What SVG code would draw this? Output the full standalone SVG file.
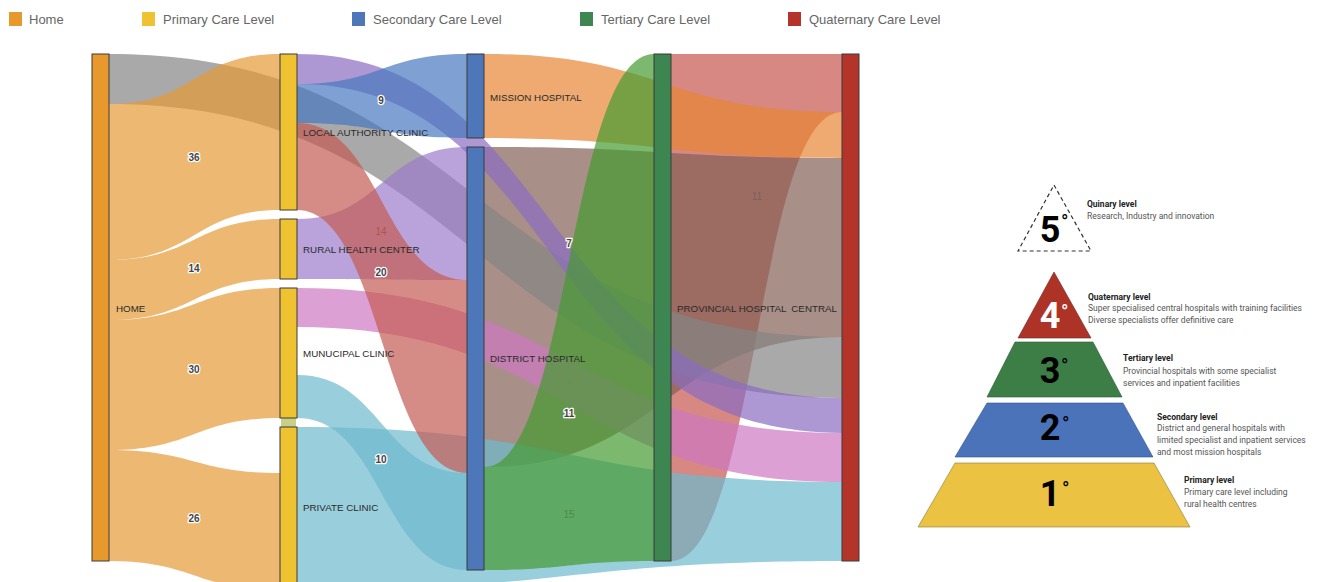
<svg xmlns="http://www.w3.org/2000/svg" width="1343" height="582" viewBox="0 0 1343 582">
<style>
.lk{stroke:none;fill-opacity:0.7}
.nd{stroke:#3a3a3a;stroke-width:1}
.nl{font-family:"Liberation Sans",Arial,sans-serif;font-size:9.8px;fill:#2a2a2a}
.vl{font-family:"Liberation Sans",Arial,sans-serif;font-size:10px;font-weight:bold;fill:#444;text-anchor:middle;stroke:#fff;stroke-width:2.5px;paint-order:stroke;stroke-linejoin:round}
.vt{font-family:"Liberation Sans",Arial,sans-serif;font-size:10px;text-anchor:middle}
.lg{font-family:"Liberation Sans",Arial,sans-serif;font-size:13px;fill:#666}
.dg{font-family:Roboto,"Liberation Sans",sans-serif;font-size:36px;font-weight:bold;text-anchor:middle}
.deg{font-family:Roboto,"Liberation Sans",sans-serif;font-size:20px}
.pt{font-family:Roboto,"Liberation Sans",sans-serif;font-size:8.5px;font-weight:bold;fill:#222}
.pb{font-family:Roboto,"Liberation Sans",sans-serif;font-size:8.5px;fill:#555}
</style>
<rect width="1343" height="582" fill="#ffffff"/>
<g id="legend">
<rect x="9" y="12" width="13" height="14" fill="#E8992E"/><text class="lg" x="29" y="24">Home</text>
<rect x="142" y="12" width="13" height="14" fill="#EFC232"/><text class="lg" x="163" y="24">Primary Care Level</text>
<rect x="352" y="12" width="13" height="14" fill="#4E77BA"/><text class="lg" x="373" y="24">Secondary Care Level</text>
<rect x="580" y="12" width="13" height="14" fill="#3D8551"/><text class="lg" x="601" y="24">Tertiary Care Level</text>
<rect x="788" y="12" width="13" height="14" fill="#B4342A"/><text class="lg" x="809" y="24">Quaternary Care Level</text>
</g>
<g id="connectors">
<path class="lk" fill="#C6554D" d="M671,54 C756.5,54 756.5,54 842,54 L842,112 C756.5,112 756.5,561 671,561 Z"/>
<path class="lk" fill="#836155" d="M484,147 C663,147 663,158 842,158 L842,337 C663,337 663,467 484,467 Z"/>
<path class="lk" fill="#848484" d="M109,54 C475.5,54 475.5,337 842,337 L842,398 C475.5,398 475.5,104 109,104 Z"/>
<path class="lk" fill="#E59A36" d="M109,104 C194.5,104 194.5,54 280,54 L280,210 C194.5,210 194.5,260 109,260 Z"/>
<path class="lk" fill="#E59A36" d="M109,260 C194.5,260 194.5,219 280,219 L280,279 C194.5,279 194.5,320 109,320 Z"/>
<path class="lk" fill="#E59A36" d="M109,320 C194.5,320 194.5,288 280,288 L280,418 C194.5,418 194.5,450 109,450 Z"/>
<path class="lk" fill="#E59A36" d="M109,450 C194.5,450 194.5,473 280,473 L280,590 C194.5,590 194.5,561 109,561 Z"/>
<path class="lk" fill="#E78634" d="M484,54 C663,54 663,112 842,112 L842,158 C663,158 663,138 484,138 Z"/>
<path class="lk" fill="#CD78C2" d="M297,288 C569.5,288 569.5,433 842,433 L842,482 C569.5,482 569.5,327 297,327 Z"/>
<path class="lk" fill="#6EB9CD" d="M297,427 C569.5,427 569.5,482 842,482 L842,561 C569.5,561 569.5,590 297,590 Z"/>
<path class="lk" fill="#9B7CCA" d="M297,219 C382,219 382,147 467,147 L467,280 C382,280 382,279 297,279 Z"/>
<path class="lk" fill="#8C6CC2" d="M297,54 C560,54 540,398 842,398 L842,433 C540,433 560,84 297,84 Z"/>
<path class="lk" fill="#4878BF" d="M297,84 C382,84 382,54 467,54 L467,138 C382,138 382,123 297,123 Z"/>
<path class="lk" fill="#6EB9CD" d="M297,375 C382,375 382,473 467,473 L467,570 C382,570 382,418 297,418 Z"/>
<path class="lk" fill="#C55B52" d="M297,123 C382,123 382,280 467,280 L467,473 C382,473 382,210 297,210 Z"/>
<path class="lk" fill="#449A30" d="M484,467 C569,467 569,54 654,54 L654,561 C569,561 569,570 484,570 Z"/>
<rect x="281" y="418" width="15" height="9" fill="#B8C46C" fill-opacity="0.8"/>
</g>
<g id="link-labels">
<text class="vl" x="194" y="161">36</text>
<text class="vl" x="194" y="272">14</text>
<text class="vl" x="194" y="373">30</text>
<text class="vl" x="194" y="522">26</text>
<text class="vl" x="381" y="104">9</text>
<text class="vt" x="381" y="235" fill="#A9574F">14</text>
<text class="vl" x="381" y="276">20</text>
<text class="vl" x="381" y="463">10</text>
<text class="vl" x="569" y="247">7</text>
<text class="vt" x="569" y="387" fill="#5E955A">9</text>
<text class="vl" x="569" y="417">11</text>
<text class="vt" x="569" y="518" fill="#4F8A4C">15</text>
<text class="vt" x="757" y="200" fill="#7E605C">11</text>
</g>
<g id="node-home"><rect class="nd" x="92" y="54" width="17" height="507" fill="#E8992E"/><text class="nl" x="116" y="312">HOME</text></g>
<g id="node-lac"><rect class="nd" x="280" y="54" width="17" height="156" fill="#EFC232"/><text class="nl" x="303" y="136">LOCAL AUTHORITY CLINIC</text></g>
<g id="node-rhc"><rect class="nd" x="280" y="219" width="17" height="60" fill="#EFC232"/><text class="nl" x="303" y="253">RURAL HEALTH CENTER</text></g>
<g id="node-mc"><rect class="nd" x="280" y="288" width="17" height="130" fill="#EFC232"/><text class="nl" x="303" y="357">MUNUCIPAL CLINIC</text></g>
<g id="node-pc"><rect class="nd" x="280" y="427" width="17" height="170" fill="#EFC232"/><text class="nl" x="303" y="511">PRIVATE CLINIC</text></g>
<g id="node-mission"><rect class="nd" x="467" y="54" width="17" height="84" fill="#4E77BA"/><text class="nl" x="490" y="101">MISSION HOSPITAL</text></g>
<g id="node-district"><rect class="nd" x="467" y="147" width="17" height="423" fill="#4E77BA"/><text class="nl" x="490" y="362">DISTRICT HOSPITAL</text></g>
<g id="node-provincial"><rect class="nd" x="654" y="54" width="17" height="507" fill="#3D8551"/><text class="nl" x="677" y="312">PROVINCIAL HOSPITAL</text></g>
<g id="node-central"><rect class="nd" x="842" y="54" width="17" height="507" fill="#B4342A"/><text class="nl" x="837" y="312" text-anchor="end">CENTRAL</text></g>
<g id="pyramid">
<polygon points="1054,185 1091,251 1018,251" fill="#ffffff" stroke="#333" stroke-width="1.2" stroke-dasharray="4 3"/>
<text class="dg" x="1050" y="242" fill="#000">5</text><text class="deg" x="1061" y="229" fill="#000">°</text>
<text class="pt" x="1087" y="207">Quinary level</text>
<text class="pb" x="1087" y="219">Research, Industry and innovation</text>
<polygon points="1054,272 1091,338 1018,338" fill="#AD3327" stroke="#6a2a24" stroke-width="0.6"/>
<text class="dg" x="1050" y="328" fill="#ffffff">4</text><text class="deg" x="1061" y="319" fill="#ffffff">°</text>
<text class="pt" x="1088" y="300">Quaternary level</text>
<text class="pb" x="1088" y="311">Super specialised central hospitals with training facilities</text>
<text class="pb" x="1088" y="323">Diverse specialists offer definitive care</text>
<polygon points="1015,342 1093,342 1122,397 987,397" fill="#3C7E46" stroke="#2c5a33" stroke-width="0.6"/>
<text class="dg" x="1050" y="383" fill="#000">3</text><text class="deg" x="1061" y="373" fill="#000">°</text>
<text class="pt" x="1123" y="361">Tertiary level</text>
<text class="pb" x="1123" y="374">Provincial hospitals with some specialist</text>
<text class="pb" x="1123" y="386">services and inpatient facilities</text>
<polygon points="987,403 1123,403 1153,457 955,457" fill="#4A73B9" stroke="#34558a" stroke-width="0.6"/>
<text class="dg" x="1050" y="440" fill="#000">2</text><text class="deg" x="1062" y="431" fill="#000">°</text>
<text class="pt" x="1157" y="420">Secondary level</text>
<text class="pb" x="1157" y="431">District and general hospitals with</text>
<text class="pb" x="1157" y="443">limited specialist and inpatient services</text>
<text class="pb" x="1157" y="455">and most mission hospitals</text>
<polygon points="955,463 1154,463 1190,527 918,527" fill="#ECC243" stroke="#8a7a3a" stroke-width="0.6"/>
<text class="dg" x="1050" y="506" fill="#000">1</text><text class="deg" x="1062" y="496" fill="#000">°</text>
<text class="pt" x="1184" y="483">Primary level</text>
<text class="pb" x="1184" y="495">Primary care level including</text>
<text class="pb" x="1184" y="507">rural health centres</text>
</g>
</svg>
